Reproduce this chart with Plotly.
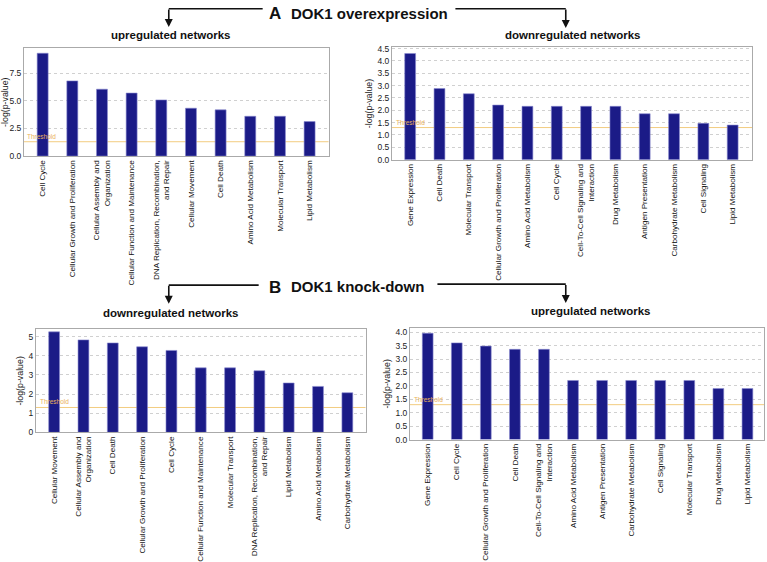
import plotly.graph_objects as go

W, H = 767, 562

# ---------------- data ----------------
a_up_cats = ["Cell Cycle", "Cellular Growth and Proliferation", "Cellular Assembly and<br>Organization",
             "Cellular Function and Maintenance", "DNA Replication, Recombination,<br>and Repair",
             "Cellular Movement", "Cell Death", "Amino Acid Metabolism", "Molecular Transport",
             "Lipid Metabolism"]
a_up_vals = [9.3, 6.8, 6.05, 5.7, 5.08, 4.33, 4.18, 3.6, 3.6, 3.12]

a_down_cats = ["Gene Expression", "Cell Death", "Molecular Transport", "Cellular Growth and Proliferation",
               "Amino Acid Metabolism", "Cell Cycle", "Cell-To-Cell Signaling and<br>Interaction",
               "Drug Metabolism", "Antigen Presentation", "Carbohydrate Metabolism", "Cell Signaling",
               "Lipid Metabolism"]
a_down_vals = [4.3, 2.88, 2.67, 2.21, 2.16, 2.16, 2.16, 2.16, 1.86, 1.86, 1.47, 1.4]

b_down_cats = ["Cellular Movement", "Cellular Assembly and<br>Organization", "Cell Death",
               "Cellular Growth and Proliferation", "Cell Cycle", "Cellular Function and Maintenance",
               "Molecular Transport", "DNA Replication, Recombination,<br>and Repair", "Lipid Metabolism",
               "Amino Acid Metabolism", "Carbohydrate Metabolism"]
b_down_vals = [5.25, 4.83, 4.67, 4.47, 4.28, 3.37, 3.37, 3.22, 2.58, 2.4, 2.07]

b_up_cats = ["Gene Expression", "Cell Cycle", "Cellular Growth and Proliferation", "Cell Death",
             "Cell-To-Cell Signaling and<br>Interaction", "Amino Acid Metabolism", "Antigen Presentation",
             "Carbohydrate Metabolism", "Cell Signaling", "Molecular Transport", "Drug Metabolism",
             "Lipid Metabolism"]
b_up_vals = [3.96, 3.6, 3.48, 3.36, 3.36, 2.2, 2.2, 2.2, 2.2, 2.2, 1.9, 1.9]

threshold = 1.3

panel_titles = ["upregulated networks", "downregulated networks",
                "downregulated networks", "upregulated networks"]
section_titles = ["A", "DOK1 overexpression", "B", "DOK1 knock-down"]
y_title = "-log(p-value)"

# ---------------- layout helpers ----------------
def X(px):
    return px / W

def Y(py):
    return 1 - py / H

panels = [
    (a_up_cats, a_up_vals, (23, 328), (46, 158), [0, 9.75], 2.5, [-0.63, 9.64]),
    (a_down_cats, a_down_vals, (391.5, 752), (45, 161.7), [0, 4.55], 0.5, [-0.62, 11.66]),
    (b_down_cats, b_down_vals, (35, 365), (338, 445), [0, 5.38], 1, [-0.62, 10.62]),
    (b_up_cats, b_up_vals, (409.5, 764), (336.7, 452.5), [0, 4.15], 0.5, [-0.61, 11.57]),
]

BAR = "#1b1b87"
AXFONT = "Liberation Sans, Arial, sans-serif"
fig = go.Figure()
layout = dict(width=W, height=H, margin=dict(l=0, r=0, t=0, b=0),
              paper_bgcolor="white", plot_bgcolor="white", showlegend=False,
              font=dict(family="Liberation Sans, Arial", color="#111"))
shapes = []
annotations = []

for i, (cats, vals, xd, yd, yr, dt, xr) in enumerate(panels):
    n = "" if i == 0 else str(i + 1)
    xa, ya = "x" + n, "y" + n
    fig.add_trace(go.Bar(x=list(range(len(cats))), y=vals, xaxis=xa, yaxis=ya,
                         marker=dict(color=BAR, line=dict(color="#8a8ad0", width=0.6)),
                         width=0.37))
    fmt = ".1f" if dt < 1 or dt == 2.5 else "d"
    layout["xaxis" + n] = dict(domain=[X(xd[0]), X(xd[1])], anchor=ya, range=xr,
                               tickmode="array", tickvals=list(range(len(cats))), ticktext=cats,
                               tickangle=-90, tickfont=dict(size=8.1, color="#111", family=AXFONT),
                               showgrid=False, zeroline=False, showline=True, mirror=True,
                               linecolor="#aaaaaa", linewidth=1, ticks="", fixedrange=True)
    layout["yaxis" + n] = dict(domain=[Y(yd[1]), Y(yd[0])], anchor=xa, range=yr,
                               dtick=dt, tick0=0, tickformat=fmt,
                               tickfont=dict(size=8.5, color="#222", family=AXFONT),
                               title=dict(text=y_title, font=dict(size=8.8, color="#222", family=AXFONT),
                                          standoff=3),
                               showgrid=True, gridcolor="#d0d0d0", griddash="dot", gridwidth=0.8,
                               zeroline=False, showline=True, mirror=True,
                               linecolor="#aaaaaa", linewidth=1, ticks="", fixedrange=True)
    shapes.append(dict(type="line", xref=xa + " domain", yref=ya, x0=0, x1=1, layer="below",
                       y0=threshold, y1=threshold, line=dict(color="#f2cc80", width=1)))
    annotations.append(dict(text="Threshold", xref=xa + " domain", yref=ya, x=0.005, y=threshold,
                            xanchor="left", yanchor="bottom", showarrow=False,
                            font=dict(size=6.5, color="#eab25a")))

# panel sub-titles
sub_pos = [(170, 32.5), (572, 32.5), (170, 321.5), (591, 319)]
for t, (px, py) in zip(panel_titles, sub_pos):
    annotations.append(dict(text="<b>%s</b>" % t, xref="paper", yref="paper", x=X(px), y=Y(py),
                            xanchor="center", yanchor="middle", showarrow=False,
                            font=dict(size=11.5, color="#111")))

# section headers
annotations.append(dict(text="<b>%s</b>" % section_titles[0], xref="paper", yref="paper",
                        x=X(266), y=Y(10), xanchor="left", yanchor="middle", showarrow=False,
                        font=dict(size=17, color="#111")))
annotations.append(dict(text="<b>%s</b>" % section_titles[1], xref="paper", yref="paper",
                        x=X(288), y=Y(9.5), xanchor="left", yanchor="middle", showarrow=False,
                        font=dict(size=15, color="#111")))
annotations.append(dict(text="<b>%s</b>" % section_titles[2], xref="paper", yref="paper",
                        x=X(266), y=Y(294), xanchor="left", yanchor="middle", showarrow=False,
                        font=dict(size=17, color="#111")))
annotations.append(dict(text="<b>%s</b>" % section_titles[3], xref="paper", yref="paper",
                        x=X(288), y=Y(293.5), xanchor="left", yanchor="middle", showarrow=False,
                        font=dict(size=15, color="#111")))

# connector lines and arrows
for (x0, x1, y) in [(168, 262, 5), (455, 565.5, 5), (168, 258, 292), (437, 565.5, 291)]:
    shapes.append(dict(type="line", xref="paper", yref="paper", x0=X(x0), x1=X(x1), y0=Y(y), y1=Y(y),
                       line=dict(color="#111", width=1.6)))
for (x, y0, y1) in [(168, 5, 24), (565.5, 5, 25), (168, 292, 311.5), (565.5, 291, 310.5)]:
    annotations.append(dict(text="", xref="paper", yref="paper", x=X(x), y=Y(y1),
                            ax=0, ay=-(y1 - y0), axref="pixel", ayref="pixel",
                            showarrow=True, arrowhead=2, arrowsize=1, arrowwidth=1.6,
                            arrowcolor="#111", standoff=0))

layout["shapes"] = shapes
layout["annotations"] = annotations
fig.update_layout(**layout)
css = ("var s=document.createElement('style');"
       "s.innerHTML='html,body{margin:0;padding:0;overflow:hidden;}';"
       "document.head.appendChild(s);")
fig.write_html("out.html", config={"displayModeBar": False}, post_script=css)
